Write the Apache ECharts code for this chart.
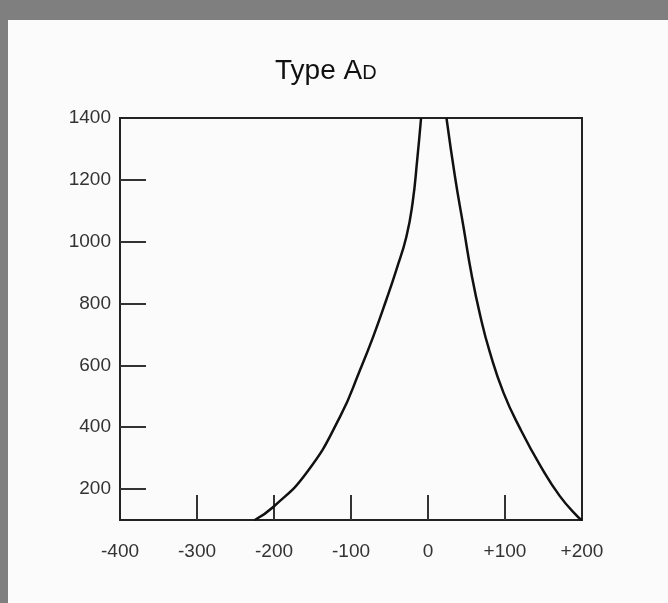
<!DOCTYPE html>
<html>
<head>
<meta charset="utf-8">
<script src="https://cdn.jsdelivr.net/npm/echarts@6/dist/echarts.min.js"></script>
<style>
html,body{margin:0;padding:0;width:668px;height:603px;background:#7f7f7f;overflow:hidden;}
#c{position:absolute;left:8px;top:20px;width:660px;height:583px;background:#fbfbfb;}
</style>
</head>
<body>
<div id="c"></div>
<script>
// Data
const leftX  = [-225, -201, -157, -114, -88, -71, -54, -41, -28, -20, -14, -9];
const leftY  = [100, 142, 255, 435, 587, 694, 813, 910, 1017, 1126, 1265, 1400];
const rightX = [24, 35, 46, 57, 68, 80, 98, 120, 146, 171, 195, 200];
const rightY = [1400, 1211, 1049, 888, 759, 645, 512, 394, 275, 178, 109, 100];
const yLabelValues = [200, 400, 600, 800, 1000, 1200, 1400];
const yTickValues = [200, 400, 600, 800, 1000, 1200];
const xTickValues = [-300, -200, -100, 0, 100];

const chart = echarts.init(document.getElementById('c'));
const toPairs = (xs, ys) => xs.map((x, i) => [x, ys[i]]);
const font = '"Liberation Sans", Arial, sans-serif';

chart.setOption({
  animation: false,
  title: {
    text: '{a|Type A}{b|D}',
    left: 262, top: 32,
    textStyle: {
      fontWeight: 'normal',
      rich: {
        a: {fontSize: 28, fontFamily: font, color: '#111', fontWeight: 'normal'},
        b: {fontSize: 20, fontFamily: font, color: '#111', fontWeight: 'normal', verticalAlign: 'bottom', padding: [0,0,2,0]}
      }
    }
  },
  grid: {
    left: 112, right: 86, top: 98, bottom: 83,
    show: true, borderColor: '#222', borderWidth: 2, backgroundColor: 'transparent'
  },
  xAxis: {
    type: 'value', min: -400, max: 200, interval: 100,
    axisLine: {show: true, onZero: false, lineStyle: {color: '#222', width: 2}},
    axisTick: {show: true, inside: true, length: 25, customValues: xTickValues, lineStyle: {color: '#333', width: 2}},
    splitLine: {show: false},
    axisLabel: {
      margin: 22, fontSize: 19, fontFamily: font, color: '#333',
      formatter: v => (v > 0 ? '+' + v : String(v))
    }
  },
  yAxis: {
    type: 'value', min: 100, max: 1400, interval: 100,
    axisLine: {show: true, onZero: false, lineStyle: {color: '#222', width: 2}},
    axisTick: {show: true, inside: true, length: 26, customValues: yTickValues, lineStyle: {color: '#333', width: 2}},
    splitLine: {show: false},
    axisLabel: {
      margin: 9, fontSize: 19, fontFamily: font, color: '#333',
      customValues: yLabelValues,
      formatter: v => String(v)
    }
  },
  series: [
    {
      type: 'line', data: toPairs(leftX, leftY), smooth: 0.5, showSymbol: false,
      lineStyle: {color: '#111', width: 2.5}, clip: true
    },
    {
      type: 'line', data: toPairs(rightX, rightY), smooth: 0.5, showSymbol: false,
      lineStyle: {color: '#111', width: 2.5}, clip: true
    }
  ]
});
</script>
</body>
</html>
